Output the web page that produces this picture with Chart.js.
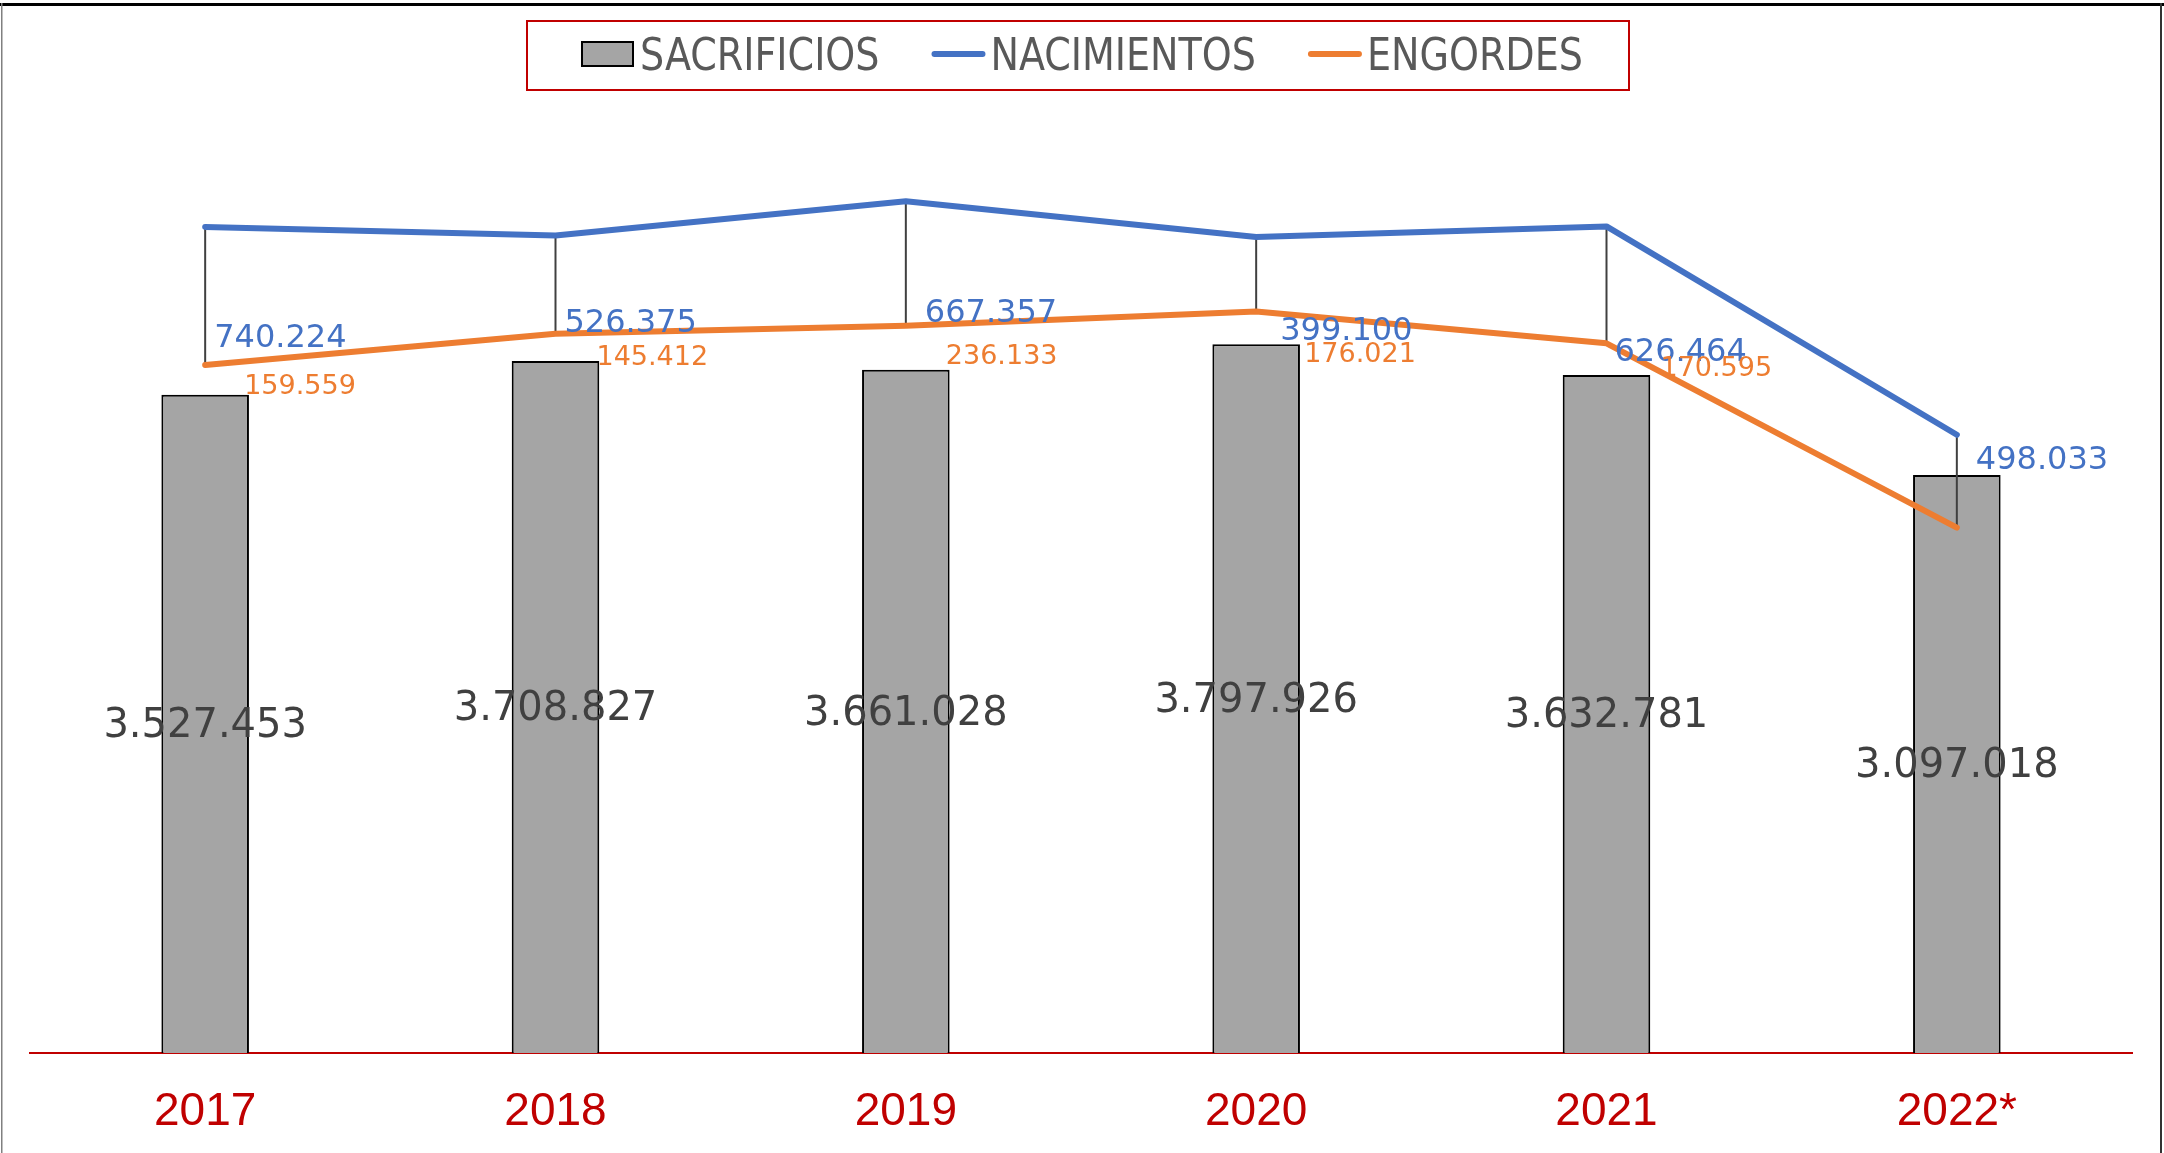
<!DOCTYPE html>
<html lang="es">
<head>
<meta charset="utf-8">
<title>Sacrificios, nacimientos y engordes</title>
<script src="https://cdn.jsdelivr.net/npm/chart.js@4.4.1/dist/chart.umd.min.js"></script>
<style>
  html, body { margin: 0; padding: 0; background: #fff; }
  #wrap { width: 2164px; height: 1153px; }
</style>
</head>
<body>
<div id="wrap"><canvas id="chart" width="2164" height="1153"></canvas></div>
<script>
const years = ['2017', '2018', '2019', '2020', '2021', '2022*'];
const sacrificios = [3527453, 3708827, 3661028, 3797926, 3632781, 3097018];
const nacimientos = [740224, 526375, 667357, 399100, 626464, 498033];
// 2022 has no label in the source; value read from where the line sits
const engordes = [159559, 145412, 236133, 176021, 170595, -282000];
const engordesLabelled = [true, true, true, true, true, false];

// label placement, px from the line point: [dx to left edge, dy to text middle]
const nacLabelOffsets = [[9, 112], [9, 88], [19, 112], [24, 95], [8, 126], [19, 26]];
const engLabelOffsets = [[39, 22], [41, 24], [40, 31], [48, 44], [54, 26], [0, 0]];

// legend order as in the source
const legendOrder = ['SACRIFICIOS', 'NACIMIENTOS', 'ENGORDES'];

const BLUE = '#4472C4';
const ORANGE = '#ED7D31';
const GREY = '#A5A5A5';
const DARK_RED = '#C00000';

const numFmt = new Intl.NumberFormat('de-DE');
const fmt = v => numFmt.format(v);

// high-low lines, drawn right after the columns so the series lines sit on top
const hiLoLines = {
    id: 'hiLoLines',
    afterDatasetDraw(chart, args) {
        if (args.index !== 0) return;
        const hi = chart.getDatasetMeta(3).data;
        const lo = chart.getDatasetMeta(2).data;
        const ctx = chart.ctx;
        ctx.save();
        ctx.strokeStyle = '#404040';
        ctx.lineWidth = 2;
        hi.forEach((p, i) => {
            ctx.beginPath();
            ctx.moveTo(p.x, p.y);
            ctx.lineTo(lo[i].x, lo[i].y);
            ctx.stroke();
        });
        ctx.restore();
    }
};

const valueLabels = {
    id: 'valueLabels',
    afterDatasetsDraw(chart) {
        const ctx = chart.ctx;
        ctx.save();
        ctx.textBaseline = 'middle';

        ctx.font = '40px "DejaVu Sans", sans-serif';
        ctx.fillStyle = '#404040';
        ctx.textAlign = 'center';
        chart.getDatasetMeta(0).data.forEach((bar, i) => {
            ctx.fillText(fmt(sacrificios[i]), bar.x, (bar.y + bar.base) / 2 + 3);
        });

        ctx.textAlign = 'left';
        ctx.font = '32px "DejaVu Sans", sans-serif';
        ctx.fillStyle = BLUE;
        chart.getDatasetMeta(3).data.forEach((p, i) => {
            const o = nacLabelOffsets[i];
            ctx.fillText(fmt(nacimientos[i]), p.x + o[0], p.y + o[1]);
        });

        ctx.font = '27px "DejaVu Sans", sans-serif';
        ctx.fillStyle = ORANGE;
        chart.getDatasetMeta(2).data.forEach((p, i) => {
            if (!engordesLabelled[i]) return;
            const o = engLabelOffsets[i];
            ctx.fillText(fmt(engordes[i]), p.x + o[0], p.y + o[1]);
        });
        ctx.restore();
    }
};

const boxLegend = {
    id: 'boxLegend',
    afterDraw(chart) {
        const ctx = chart.ctx;
        const items = legendOrder.map(name => chart.data.datasets.find(d => d.label === name));
        const squeeze = 0.94;
        ctx.save();
        ctx.font = '45px "Liberation Sans Narrow", "DejaVu Sans Condensed", sans-serif';
        const iconW = 54, gap = 5, itemGap = 52;
        const widths = items.map(d => iconW + gap + ctx.measureText(d.label).width * squeeze);
        const total = widths.reduce((a, b) => a + b, 0) + itemGap * (items.length - 1);
        let x = Math.round(chart.width / 2 - total / 2);
        const cy = 54;

        ctx.strokeStyle = DARK_RED;
        ctx.lineWidth = 2;
        ctx.strokeRect(x - 54, 21, Math.round(total + 100), 69);

        items.forEach((d, i) => {
            if (d.type === 'bar') {
                ctx.fillStyle = GREY;
                ctx.fillRect(x + 1, cy - 12, 51, 24);
                ctx.strokeStyle = '#000';
                ctx.lineWidth = 2;
                ctx.strokeRect(x + 1, cy - 12, 51, 24);
            } else {
                ctx.strokeStyle = d.borderColor;
                ctx.lineWidth = 6;
                ctx.lineCap = 'round';
                ctx.beginPath();
                ctx.moveTo(x + 3, cy);
                ctx.lineTo(x + iconW - 3, cy);
                ctx.stroke();
            }
            ctx.save();
            ctx.translate(x + iconW + gap, 70);
            ctx.scale(squeeze, 1);
            ctx.fillStyle = '#595959';
            ctx.textBaseline = 'alphabetic';
            ctx.textAlign = 'left';
            ctx.fillText(d.label, 0, 0);
            ctx.restore();
            x += widths[i] + itemGap;
        });
        ctx.restore();
    }
};

const frame = {
    id: 'frame',
    beforeDraw(chart) {
        const ctx = chart.ctx;
        ctx.save();
        ctx.fillStyle = '#fff';
        ctx.fillRect(0, 0, chart.width, chart.height);
        ctx.restore();
    },
    afterDraw(chart) {
        const ctx = chart.ctx;
        ctx.save();
        ctx.fillStyle = '#000';
        ctx.fillRect(0, 3, chart.width, 3);
        ctx.fillStyle = '#808080';
        ctx.fillRect(1, 3, 1.5, chart.height);
        ctx.fillStyle = '#333';
        ctx.fillRect(2160, 3, 2, chart.height);
        ctx.restore();
    }
};

new Chart(document.getElementById('chart'), {
    type: 'bar',
    data: {
        labels: years,
        datasets: [
            {
                type: 'bar',
                label: 'SACRIFICIOS',
                data: sacrificios,
                stack: 'bars',
                order: 2,
                backgroundColor: GREY,
                borderColor: '#000',
                borderWidth: 2,
                barPercentage: 0.25,
                categoryPercentage: 1
            },
            {
                // invisible base so the lines stack on top of the columns
                type: 'line',
                label: 'base',
                data: sacrificios,
                stack: 'lines',
                order: 1,
                showLine: false,
                pointRadius: 0,
                borderWidth: 0
            },
            {
                type: 'line',
                label: 'ENGORDES',
                data: engordes,
                stack: 'lines',
                order: 1,
                borderColor: ORANGE,
                borderWidth: 6,
                borderJoinStyle: 'round',
                borderCapStyle: 'round',
                pointRadius: 0,
                tension: 0
            },
            {
                type: 'line',
                label: 'NACIMIENTOS',
                data: nacimientos,
                stack: 'lines',
                order: 1,
                borderColor: BLUE,
                borderWidth: 6,
                borderJoinStyle: 'round',
                borderCapStyle: 'round',
                pointRadius: 0,
                tension: 0
            }
        ]
    },
    options: {
        responsive: false,
        animation: false,
        devicePixelRatio: 1,
        layout: { padding: { top: 120, left: 30, right: 32, bottom: 0 } },
        plugins: {
            legend: { display: false },
            tooltip: { enabled: false }
        },
        scales: {
            x: {
                grid: { display: false, drawTicks: false },
                border: { color: DARK_RED, width: 2 },
                ticks: {
                    color: DARK_RED,
                    font: { family: '"Liberation Sans", Arial, sans-serif', size: 46 },
                    padding: 32
                },
                afterFit(scale) { scale.height = 100; }
            },
            y: {
                display: false,
                min: 0,
                max: 5000000,
                stacked: 'single'
            }
        }
    },
    plugins: [frame, hiLoLines, valueLabels, boxLegend]
});
</script>
</body>
</html>
